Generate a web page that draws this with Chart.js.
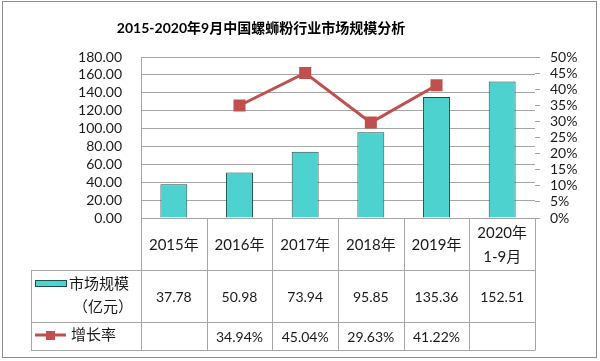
<!DOCTYPE html>
<html>
<head>
<meta charset="utf-8">
<script src="https://cdn.jsdelivr.net/npm/chart.js@4.4.1/dist/chart.umd.min.js"></script>
<style>
  html, body { margin: 0; padding: 0; background: #fff; }
</style>
</head>
<body>
<canvas id="chart" width="600" height="361"></canvas>
<script>
const titleText = '2015-2020年9月中国螺蛳粉行业市场规模分析';
const categories = [['2015年'], ['2016年'], ['2017年'], ['2018年'], ['2019年'], ['2020年', '1-9月']];
const marketSize = [37.78, 50.98, 73.94, 95.85, 135.36, 152.51];
const growthRate = [null, 34.94, 45.04, 29.63, 41.22, null];
const sizeLabel = ['市场规模', '（亿元）'];
const rateLabel = '增长率';

const FONT = "Lato, 'Noto Sans CJK SC', sans-serif";
const BAR_FILL = '#4dd2cf';
const BAR_EDGE = '#1d4d4d';
const LINE_RED = '#c0504d';
const GRID = '#a6a6a6';
const TEXT = '#1a1a1a';

// title (sits left of centre in the original) + data table under the plot
const tablePlugin = {
  id: 'dataTable',
  afterDraw(chart) {
    const ctx = chart.ctx;
    const area = chart.chartArea;
    const x = chart.scales.x;
    const colW = (area.right - area.left) / categories.length;
    const rowTop = area.bottom, row1 = 270, row2 = 322, rowEnd = 350;
    const legendLeft = 31;

    ctx.save();
    ctx.fillStyle = '#000';
    ctx.font = 'bold 14px ' + FONT;
    ctx.textAlign = 'center';
    ctx.textBaseline = 'middle';
    ctx.fillText(titleText, 261, 28);

    ctx.strokeStyle = GRID;
    ctx.lineWidth = 1;
    ctx.beginPath();
    for (let i = 0; i <= categories.length; i++) {
      const px = Math.round(area.left + i * colW) + 0.5;
      ctx.moveTo(px, rowTop);
      ctx.lineTo(px, rowEnd);
    }
    [row1, row2, rowEnd].forEach(y => {
      ctx.moveTo(legendLeft, y + 0.5);
      ctx.lineTo(Math.round(area.right) + 0.5, y + 0.5);
    });
    ctx.moveTo(legendLeft + 0.5, row1);
    ctx.lineTo(legendLeft + 0.5, rowEnd);
    ctx.stroke();

    ctx.fillStyle = TEXT;
    categories.forEach((lab, i) => {
      const cx = x.getPixelForValue(i);
      ctx.font = '15px ' + FONT;
      if (lab.length === 1) {
        ctx.fillText(lab[0], cx, (rowTop + row1) / 2 + 1);
      } else {
        ctx.fillText(lab[0], cx, 233);
        ctx.fillText(lab[1], cx, 257);
      }
      ctx.font = '14px ' + FONT;
      ctx.fillText(marketSize[i].toFixed(2), cx, (row1 + row2) / 2 + 1);
      if (growthRate[i] !== null) {
        ctx.fillText(growthRate[i].toFixed(2) + '%', cx, (row2 + rowEnd) / 2 + 1);
      }
    });

    // legend keys
    ctx.fillStyle = BAR_FILL;
    ctx.fillRect(35, 280, 31, 6);
    ctx.strokeStyle = BAR_EDGE;
    ctx.strokeRect(35.5, 280.5, 31, 6);
    ctx.strokeStyle = LINE_RED;
    ctx.lineWidth = 3;
    ctx.beginPath();
    ctx.moveTo(35, 335);
    ctx.lineTo(66, 335);
    ctx.stroke();
    ctx.fillStyle = LINE_RED;
    ctx.fillRect(46, 331, 9, 9);

    ctx.fillStyle = TEXT;
    ctx.font = '15px ' + FONT;
    ctx.textAlign = 'left';
    ctx.fillText(sizeLabel[0], 69, 284);
    ctx.textAlign = 'center';
    ctx.fillText(sizeLabel[1], 103, 307);
    ctx.textAlign = 'left';
    ctx.fillText(rateLabel, 71, 335);

    // outer frame
    ctx.strokeStyle = '#8c8c8c';
    ctx.lineWidth = 1;
    ctx.strokeRect(2.5, 1.5, 594, 356);
    ctx.restore();
  }
};

new Chart(document.getElementById('chart'), {
  data: {
    labels: categories,
    datasets: [
      {
        type: 'line',
        label: rateLabel,
        data: growthRate,
        yAxisID: 'y1',
        order: 0,
        borderColor: LINE_RED,
        backgroundColor: LINE_RED,
        borderWidth: 3,
        pointStyle: 'rect',
        pointRadius: 8.5,
        pointBorderWidth: 0,
        pointBackgroundColor: LINE_RED
      },
      {
        type: 'bar',
        label: sizeLabel.join(''),
        data: marketSize,
        yAxisID: 'y',
        order: 1,
        backgroundColor: BAR_FILL,
        borderColor: BAR_EDGE,
        borderWidth: 1,
        categoryPercentage: 1,
        barPercentage: 0.41
      }
    ]
  },
  options: {
    responsive: false,
    animation: false,
    layout: { padding: { top: 57, bottom: 143, left: 0, right: 0 } },
    plugins: {
      legend: { display: false },
      tooltip: { enabled: false },
      title: { display: false }
    },
    scales: {
      x: { display: false, offset: true },
      y: {
        position: 'left',
        min: 0,
        max: 180,
        afterFit: s => { s.width = 141; },
        ticks: {
          stepSize: 20,
          autoSkip: false,
          padding: 19,
          color: TEXT,
          font: { family: FONT, size: 14 },
          callback: v => v.toFixed(2)
        },
        grid: { color: GRID, drawTicks: false },
        border: { display: true, color: GRID }
      },
      y1: {
        position: 'right',
        min: 0,
        max: 50,
        afterFit: s => { s.width = 65; },
        ticks: {
          stepSize: 5,
          autoSkip: false,
          padding: 10,
          color: TEXT,
          font: { family: FONT, size: 14 },
          callback: v => v + '%'
        },
        grid: { drawOnChartArea: false, drawTicks: true, tickLength: 5, color: GRID },
        border: { display: false }
      }
    }
  },
  plugins: [tablePlugin]
});
</script>
</body>
</html>
